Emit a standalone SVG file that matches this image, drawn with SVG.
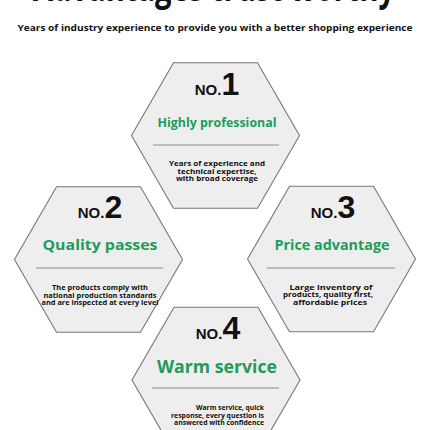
<svg xmlns="http://www.w3.org/2000/svg" width="430" height="430" viewBox="0 0 430 430">
<style>
.hex{fill:#eeeeee;stroke:#777777;stroke-width:1.1}
.sep{stroke:#8a8a8a;stroke-width:1}
.num{font-family:"Liberation Sans",Arial,sans-serif;font-weight:bold;fill:#111;text-anchor:middle}
.no{font-size:15px}
.big{font-size:32px}
.head{font-family:"Open Sans","Noto Sans",sans-serif;font-weight:bold;fill:#1f9b5c;text-anchor:middle}
.small{font-family:"Open Sans","Noto Sans",sans-serif;font-weight:bold;fill:#111;font-size:7px;text-anchor:middle}
.title{font-family:"Open Sans","Noto Sans",sans-serif;font-weight:bold;fill:#111}
</style>
<rect width="430" height="430" fill="#fff"/>
<text class="title" x="214" y="0.5" font-size="40" text-anchor="middle" textLength="362" lengthAdjust="spacingAndGlyphs">Advantages trust worthy</text>
<text class="title" x="215" y="31" font-size="8.5" text-anchor="middle" textLength="395" lengthAdjust="spacingAndGlyphs">Years of industry experience to provide you with a better shopping experience</text>
<g id="connectors"></g>
<g id="node1">
<polygon class="hex" points="173.5,62.8 257.5,62.8 299.5,135.5 257.5,208.2 173.5,208.2 131.5,135.5"/>
<text class="num" x="217" y="95"><tspan class="no">NO.</tspan><tspan class="big">1</tspan></text>
<text class="head" x="217" y="127" font-size="11.5" textLength="119" lengthAdjust="spacingAndGlyphs">Highly professional</text>
<line class="sep" x1="153" y1="145" x2="279" y2="145"/>
<text class="small" x="217" y="166" textLength="96" lengthAdjust="spacingAndGlyphs">Years of experience and</text>
<text class="small" x="217" y="173.5" textLength="79" lengthAdjust="spacingAndGlyphs">technical expertise,</text>
<text class="small" x="217" y="181" textLength="82" lengthAdjust="spacingAndGlyphs">with broad coverage</text>
</g>
<g id="node2">
<polygon class="hex" points="56.5,186.8 140.5,186.8 182.5,259.5 140.5,332.2 56.5,332.2 14.5,259.5"/>
<text class="num" x="100" y="218"><tspan class="no">NO.</tspan><tspan class="big">2</tspan></text>
<text class="head" x="100" y="250" font-size="14" textLength="115" lengthAdjust="spacingAndGlyphs">Quality passes</text>
<line class="sep" x1="36" y1="268" x2="163" y2="268"/>
<text class="small" x="100" y="290" textLength="96" lengthAdjust="spacingAndGlyphs">The products comply with</text>
<text class="small" x="100" y="297.5" textLength="113" lengthAdjust="spacingAndGlyphs">national production standards</text>
<text class="small" x="100" y="305" textLength="117" lengthAdjust="spacingAndGlyphs">and are inspected at every level</text>
</g>
<g id="node3">
<polygon class="hex" points="289.5,186.3 373.5,186.3 415.5,259 373.5,331.7 289.5,331.7 247.5,259"/>
<text class="num" x="333" y="218"><tspan class="no">NO.</tspan><tspan class="big">3</tspan></text>
<text class="head" x="332" y="250" font-size="14" textLength="115" lengthAdjust="spacingAndGlyphs">Price advantage</text>
<line class="sep" x1="267" y1="268" x2="395" y2="268"/>
<text class="small" x="331" y="289.5" textLength="83" lengthAdjust="spacingAndGlyphs">Large inventory of</text>
<text class="small" x="328" y="297" textLength="90" lengthAdjust="spacingAndGlyphs">products, quality first,</text>
<text class="small" x="330" y="304.5" textLength="74" lengthAdjust="spacingAndGlyphs">affordable prices</text>
</g>
<g id="node4">
<polygon class="hex" points="174,307.3 258,307.3 300,380 258,452.7 174,452.7 132,380"/>
<text class="num" x="218" y="339"><tspan class="no">NO.</tspan><tspan class="big">4</tspan></text>
<text class="head" x="217" y="373" font-size="17.5" textLength="120" lengthAdjust="spacingAndGlyphs">Warm service</text>
<line class="sep" x1="152" y1="388" x2="279" y2="388"/>
<text class="small" x="264" y="410" style="text-anchor:end" textLength="68" lengthAdjust="spacingAndGlyphs">Warm service, quick</text>
<text class="small" x="264" y="417.5" style="text-anchor:end" textLength="93" lengthAdjust="spacingAndGlyphs">response, every question is</text>
<text class="small" x="264" y="425" style="text-anchor:end" textLength="90" lengthAdjust="spacingAndGlyphs">answered with confidence</text>
</g>
</svg>
